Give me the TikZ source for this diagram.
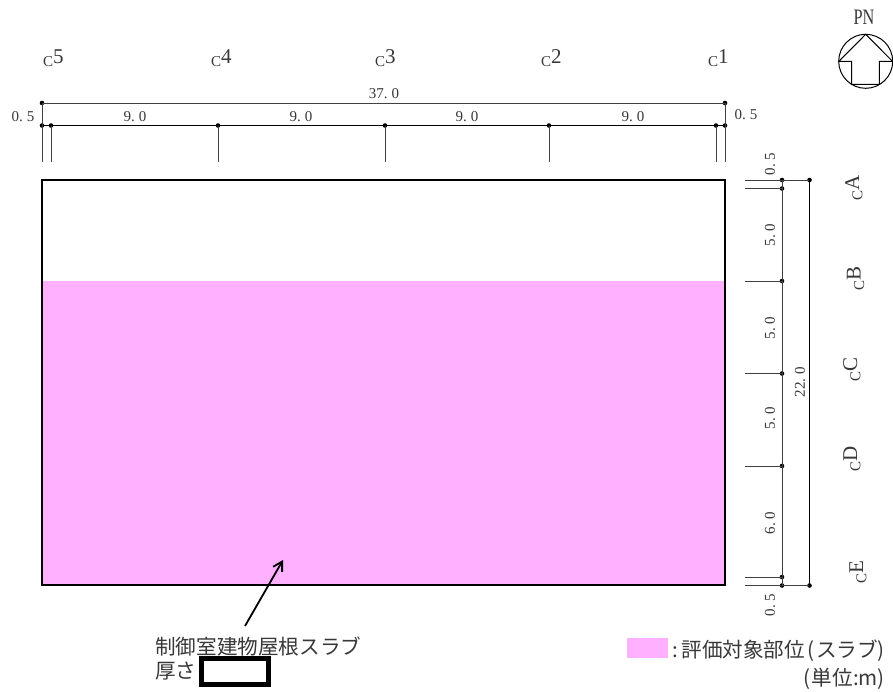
\documentclass[tikz,border=0pt]{standalone}
\usepackage{fontspec}
\setmainfont{Liberation Serif}
\newfontfamily\jpf{Noto Sans CJK JP}
\usetikzlibrary{arrows.meta}
\definecolor{slabpink}{RGB}{255,176,255}
\definecolor{inkgray}{gray}{0.22}
\newcommand{\gridlab}[2]{{\fontsize{15}{15}\selectfont\raisebox{-3.4pt}{C}}{\fontsize{21}{21}\selectfont #2}}
\newcommand{\dimval}[2]{#1.\hspace{4pt}#2}
\tikzset{
  x=1pt,y=-1pt,
  dimline/.style={line width=1pt,draw=black!75},
  dimdot/.style={circle,fill=black,inner sep=0pt,minimum size=4.6pt},
  dimtext/.style={inner sep=0pt,text=inkgray,font=\fontsize{15}{15}\selectfont},
  gridtext/.style={inner sep=0pt,anchor=base west,text=inkgray},
  jptext/.style={inner sep=0pt,text=inkgray,font=\jpf\fontsize{20.6}{21}\selectfont},
}
\begin{document}
\begin{tikzpicture}
\useasboundingbox (0,0) rectangle (893,691);
\fill[white] (0,0) rectangle (893,691);
% slab
\fill[slabpink] (42,281) rectangle (725,585);
\node[draw=black,line width=1.8pt,inner sep=0pt,outer sep=0pt,minimum width=683pt,minimum height=405pt,anchor=north west] (slab) at (42,180) {};
% top dimension
\foreach \n/\xx in {a/42,b/725}{\node[dimdot] (T\n) at (\xx,103) {};}
\foreach \n/\xx in {0/42,1/51,2/218,3/385,4/549,5/716,6/725}{
  \node[dimdot] (M\n) at (\xx,125.5) {};
  \coordinate (B\n) at (\xx,162);
}
\draw[dimline] (Ta.center) -- (Tb.center);
\draw[dimline,draw=black] (M0.center) -- (M6.center);
\draw[dimline] (Ta.center) -- (B0);
\draw[dimline] (Tb.center) -- (B6);
\foreach \n in {1,2,3,4,5}{\draw[dimline] (M\n.center) -- (B\n);}
% right dimension
\foreach \n/\yy in {0/180,1/188.5,2/281,3/373.5,4/466,5/577,6/585.5}{
  \node[dimdot] (R\n) at (782,\yy) {};
  \coordinate (L\n) at (745,\yy);
  \draw[dimline] (L\n) -- (R\n.center);
}
\draw[dimline] (R0.center) -- (R6.center);
\node[dimdot] (Qa) at (809.5,180) {};
\node[dimdot] (Qb) at (809.5,585.5) {};
\draw[dimline] (R0.center) -- (Qa.center);
\draw[dimline] (R6.center) -- (Qb.center);
\draw[dimline,draw=black] (Qa.center) -- (Qb.center);
% dimension texts
\node[dimtext] (d37) at (384,94) {37.\hspace{4pt}0};
\node[dimtext] (dl) at (23,117) {\dimval{0}{5}};
\node[dimtext] (dr) at (746,115) {\dimval{0}{5}};
\foreach \n/\xx in {a/135,b/301,c/467,d/633}{\node[dimtext] (s\n) at (\xx,117) {\dimval{9}{0}};}
\node[dimtext,rotate=90] (v1) at (770,164) {\dimval{0}{5}};
\node[dimtext,rotate=90] (v2) at (770,235) {\dimval{5}{0}};
\node[dimtext,rotate=90] (v3) at (770,328) {\dimval{5}{0}};
\node[dimtext,rotate=90] (v4) at (770,418) {\dimval{5}{0}};
\node[dimtext,rotate=90] (v5) at (770,523) {\dimval{6}{0}};
\node[dimtext,rotate=90] (v6) at (770,605) {\dimval{0}{5}};
\node[dimtext,rotate=90] (v7) at (800,382) {22.\hspace{4pt}0};
% grid labels
\node[gridtext] (c5) at (43,63.3) {\gridlab{C}{5}};
\node[gridtext] (c4) at (211,63.3) {\gridlab{C}{4}};
\node[gridtext] (c3) at (375,63.3) {\gridlab{C}{3}};
\node[gridtext] (c2) at (541,63.3) {\gridlab{C}{2}};
\node[gridtext] (c1) at (708,63.3) {\gridlab{C}{1}};
\node[gridtext,rotate=90] (cA) at (859,201) {\gridlab{C}{A}};
\node[gridtext,rotate=90] (cB) at (860.7,291) {\gridlab{C}{B}};
\node[gridtext,rotate=90] (cC) at (857,382) {\gridlab{C}{C}};
\node[gridtext,rotate=90] (cD) at (857,472) {\gridlab{C}{D}};
\node[gridtext,rotate=90] (cE) at (863,584) {\gridlab{C}{E}};
% north mark
\node[draw=black,line width=1pt,circle,inner sep=0pt,minimum size=54pt] (north) at (865.7,61.3) {};
\draw[line width=1pt,line join=miter] (865.7,34.3) -- (838.9,61.3) -- (851.7,61.3) -- (851.7,84.3) -- (879.3,84.3) -- (879.3,61.3) -- (892.5,61.3) -- cycle;
\node[inner sep=0pt,text=inkgray,font=\fontsize{22}{22}\selectfont,xscale=0.74] (pn) at (864,17.5) {PN};
% callout
\node[jptext,anchor=west] (roof) at (155,647) {制御室建物屋根スラブ};
\node[jptext,anchor=west] (thick) at (155,671) {厚さ};
\node[draw=black,line width=5pt,fill=white,inner sep=0pt,outer sep=0pt,minimum width=67pt,minimum height=26pt,anchor=north west] (blank) at (201.5,658.5) {};
\coordinate (tip) at (283,560);
\coordinate (tail) at (245,626);
\draw[line width=1.8pt,-{Straight Barb[length=9pt,width=12pt,angle'=60]}] (tail) -- (tip);
% legend
\node[fill=slabpink,inner sep=0pt,minimum width=41pt,minimum height=20pt,anchor=north west] (key) at (627,638) {};
\node[jptext,anchor=east] (keytext) at (885,651) {:\hspace{3pt}評価対象部位\hspace{2pt}(\hspace{2pt}スラブ)};
\node[jptext,anchor=east] (unit) at (885,679) {(\hspace{1pt}単位:m)};
\end{tikzpicture}
\end{document}
